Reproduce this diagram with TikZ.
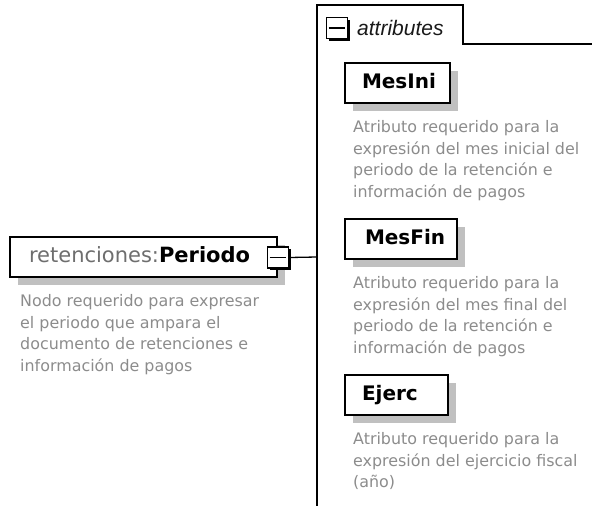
\documentclass[tikz,border=0pt]{standalone}
\usepackage{fontspec}
\setmainfont{DejaVu Sans}
\newfontfamily\lsans{Liberation Sans}
\usetikzlibrary{shadows}
\definecolor{descgray}{RGB}{140,140,140}
\definecolor{prefgray}{RGB}{110,110,110}
\definecolor{shadowgray}{RGB}{192,192,192}
\tikzset{
  elbox/.style={draw=black, fill=white, line width=1.3pt, inner ysep=0pt, align=left,
    minimum height=40pt, text height=15pt, text depth=4pt,
    drop shadow={shadow xshift=8pt, shadow yshift=-8pt, fill=shadowgray, opacity=1}},
  attrname/.style={font=\fontsize{20}{24}\selectfont\bfseries, text=black},
  expander/.style={draw=black, fill=white, line width=1.8pt, inner sep=0pt,
    minimum width=21pt, minimum height=21pt,
    drop shadow={shadow xshift=2.2pt, shadow yshift=-2.2pt, fill=black, opacity=1}},
  desc/.style={font=\fontsize{15.9}{21.5}\selectfont, text=descgray, align=left, inner sep=0pt, anchor=base west},
  wire/.style={draw=black, line width=1.3pt}
}
\begin{document}
\begin{tikzpicture}[x=1pt,y=-1pt]
\useasboundingbox (0,0) rectangle (592,506);
% attribute group frame
\coordinate (gbot) at (317,506);
\coordinate (gtl) at (317,5);
\coordinate (gtr) at (463,5);
\coordinate (gtb) at (463,44);
\coordinate (gend) at (592,44);
\draw[wire, line cap=rect] (gbot) -- (gtl) -- (gtr) -- (gtb) -- (gend);
\coordinate (bus) at (317,257);
% main element
\node[elbox, attrname, font=\fontsize{21}{25}\selectfont, inner xsep=19pt, text width=229pt] (periodo) at (143.5,257)
  {\textcolor{prefgray}{retenciones:}\textbf{Periodo}};
\node[expander] (exp1) at (278,257.5) {};
\draw[line width=1.4pt] ([xshift=3pt]exp1.west) -- ([xshift=-3pt]exp1.east);
\draw[wire] (exp1.east) -- (bus);
\node[desc] (d0) at (20,371) {Nodo requerido para expresar\\el periodo que ampara el\\documento de retenciones e\\información de pagos};
% attributes tab
\node[expander] (exp2) at (337,28) {};
\draw[line width=1.4pt] ([xshift=3pt]exp2.west) -- ([xshift=-3pt]exp2.east);
\node[font=\lsans\fontsize{21}{25}\selectfont\itshape, text=black!90, anchor=west, inner sep=0pt] (attrs) at (357,28) {attributes};
% MesIni
\node[elbox, attrname, inner xsep=17pt, text width=71pt] (mesini) at (397.5,83) {MesIni};
\node[desc] (d1) at (353,197) {Atributo requerido para la\\expresión del mes inicial del\\periodo de la retención e\\información de pagos};
% MesFin
\node[elbox, attrname, inner xsep=20pt, text width=72pt] (mesfin) at (401,239) {MesFin};
\node[desc] (d2) at (353,353) {Atributo requerido para la\\expresión del mes final del\\periodo de la retención e\\información de pagos};
% Ejerc
\node[elbox, attrname, inner xsep=17pt, text width=69pt] (ejerc) at (396.5,395) {Ejerc};
\node[desc] (d3) at (353,487.5) {Atributo requerido para la\\expresión del ejercicio fiscal\\(año)};
\end{tikzpicture}
\end{document}
